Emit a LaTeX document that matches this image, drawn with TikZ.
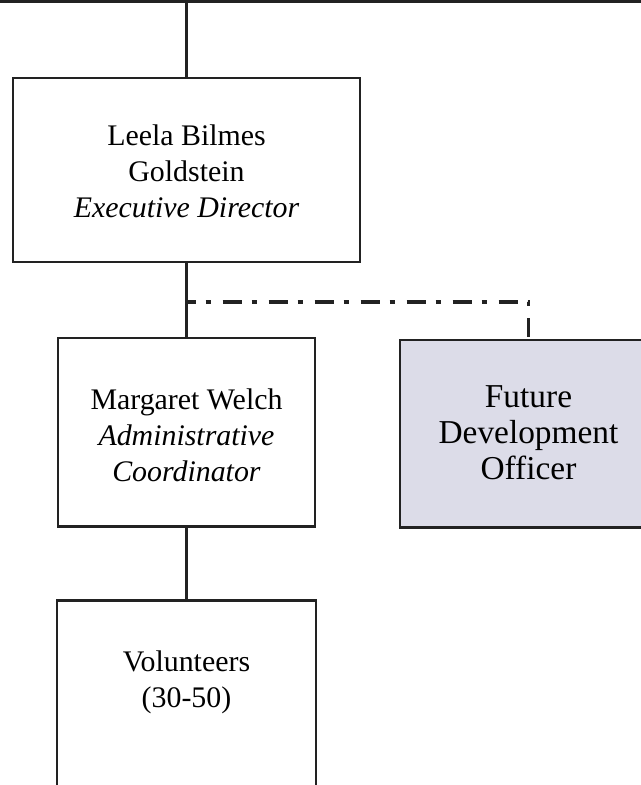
\documentclass[tikz,border=0pt]{standalone}
\usepackage{fontspec}
\setmainfont{Liberation Serif}
\usetikzlibrary{positioning}
\definecolor{FutureGray}{HTML}{DCDCE8}
\definecolor{LineGray}{HTML}{222222}

\begin{document}
\begin{tikzpicture}[
  box/.style={rectangle, draw=LineGray, line width=1.7pt, minimum width=5.14cm,
    minimum height=3.76cm, inner sep=0pt},
  lbl/.style={align=center, inner sep=0pt, font=\fontsize{17}{20.5}\selectfont},
  link/.style={draw=LineGray, line width=1.7pt},
  dotlink/.style={link, line width=2.2pt,
    dash pattern=on 0.38cm off 0.2cm on 0.1cm off 0.24cm, dash phase=0.2cm}
]
\useasboundingbox (0,0) rectangle (12.82,-15.7);
\clip (0,0) rectangle (12.82,-15.7);

\node[box, minimum width=6.94cm, minimum height=3.68cm] (director) at (3.73,-3.40) {};
\node[lbl, below=0.96cm of director.north] (directortxt) {Leela Bilmes\\Goldstein\\\textit{Executive Director}};
\node[box] (coord) at (3.73,-8.64) {};
\node[lbl, below=1.04cm of coord.north] (coordtxt) {Margaret Welch\\\textit{Administrative}\\\textit{Coordinator}};
\node[box, fill=FutureGray, minimum height=3.74cm] (future) at (10.57,-8.67) {};
\node[lbl, font=\fontsize{19}{20.5}\selectfont, below=0.94cm of future.north] (futuretxt) {Future\\Development\\Officer};
\node[box, minimum width=5.18cm, minimum height=3.9cm] (volun) at (3.73,-13.95) {};
\node[lbl, below=1.04cm of volun.north] (voluntxt) {Volunteers\\(30-50)};

\coordinate (edgeL) at (0,-0.03);
\coordinate (edgeR) at (12.82,-0.03);
\coordinate (top) at (3.73,-0.03);
\coordinate (branch) at (3.73,-6.04);

\draw[link] (edgeL) -- (edgeR);
\draw[link] (top) -- (director.north);
\draw[link] (director) -- (coord);
\draw[link] (coord) -- (volun);
\draw[dotlink] (branch) -| (future.north);
\end{tikzpicture}
\end{document}
